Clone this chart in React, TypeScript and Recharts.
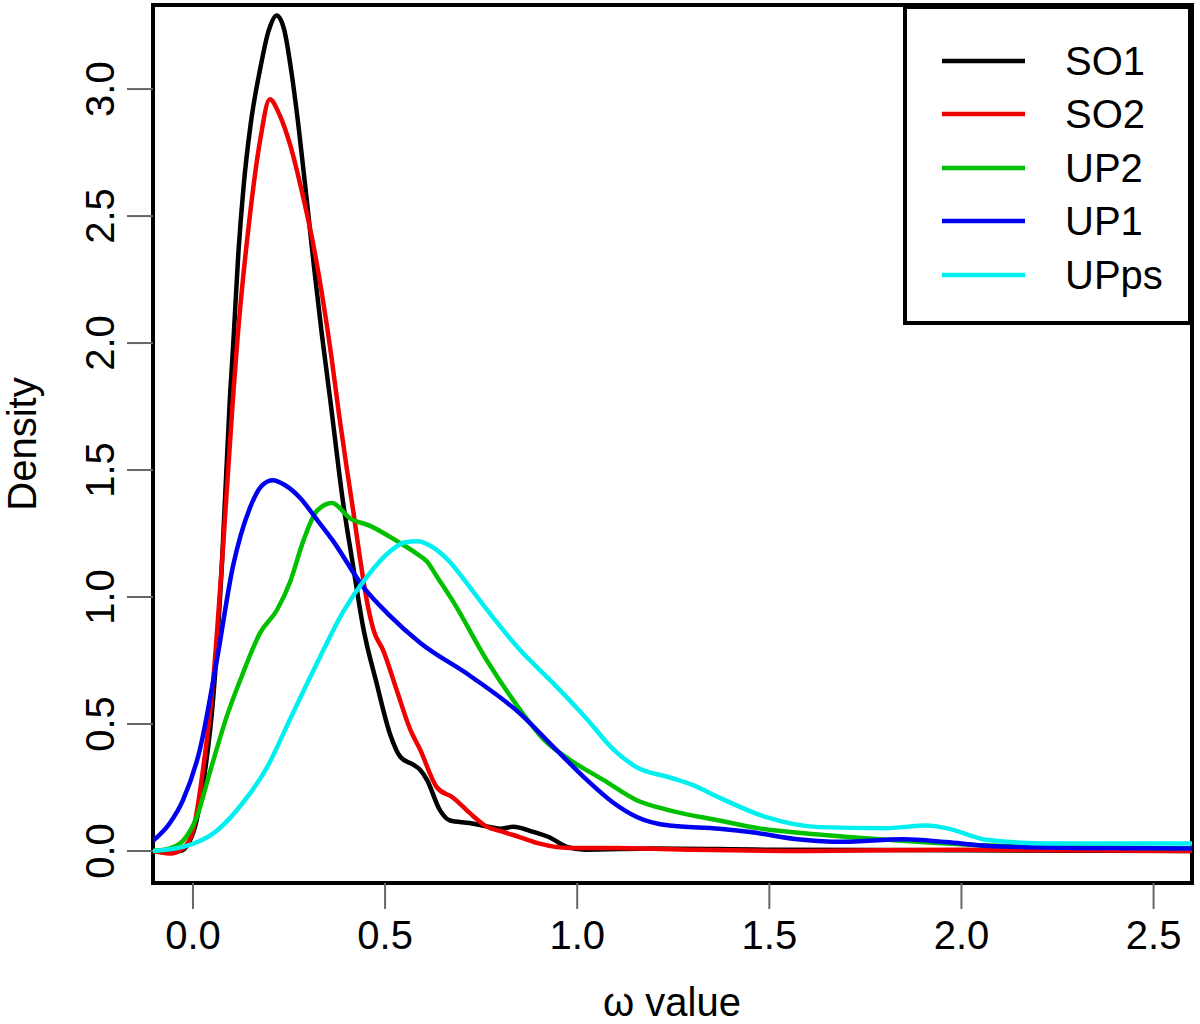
import React from 'react';
import {
  LineChart,
  Line,
  XAxis,
  YAxis,
  Legend,
  ReferenceArea,
  Label,
} from 'recharts';

// Kernel density estimates of omega per gene category
const SO1: [number, number][] = [
  [-0.104, 0.0], [-0.034, 0.0], [0.0, 0.07], [0.027, 0.27], [0.052, 0.59], [0.075, 1.12],
  [0.096, 1.78], [0.105, 2.0], [0.118, 2.35], [0.132, 2.62], [0.15, 2.86], [0.175, 3.08],
  [0.197, 3.23], [0.218, 3.29], [0.238, 3.23], [0.255, 3.08], [0.275, 2.85], [0.295, 2.58],
  [0.315, 2.3], [0.335, 2.04], [0.357, 1.78], [0.39, 1.38], [0.417, 1.12], [0.443, 0.88],
  [0.478, 0.66], [0.513, 0.46], [0.54, 0.37], [0.573, 0.34], [0.591, 0.32], [0.609, 0.28],
  [0.643, 0.16], [0.669, 0.12], [0.72, 0.11], [0.764, 0.097], [0.8, 0.088], [0.833, 0.095],
  [0.886, 0.075], [0.93, 0.052], [0.973, 0.016], [1.02, 0.005], [1.2, 0.01], [1.5, 0.005],
  [2.0, 0.003], [2.6, 0.0],
];

const SO2: [number, number][] = [
  [-0.104, 0.0], [-0.06, -0.01], [-0.026, 0.01], [0.0, 0.08], [0.027, 0.33], [0.052, 0.66],
  [0.078, 1.19], [0.104, 1.78], [0.115, 2.0], [0.148, 2.5], [0.175, 2.8], [0.2, 2.96],
  [0.225, 2.9], [0.253, 2.78], [0.283, 2.6], [0.309, 2.42], [0.335, 2.2], [0.36, 1.95],
  [0.38, 1.72], [0.4, 1.51], [0.417, 1.34], [0.435, 1.15], [0.452, 0.99], [0.47, 0.87],
  [0.495, 0.79], [0.531, 0.63], [0.565, 0.48], [0.591, 0.4], [0.635, 0.25], [0.677, 0.21],
  [0.72, 0.15], [0.76, 0.1], [0.807, 0.075], [0.85, 0.055], [0.9, 0.03], [0.98, 0.012],
  [1.1, 0.012], [1.3, 0.005], [1.6, 0.0], [2.0, 0.005], [2.6, 0.0],
];

const UP2: [number, number][] = [
  [-0.104, 0.0], [-0.06, 0.01], [-0.026, 0.04], [0.01, 0.135], [0.044, 0.31], [0.088, 0.53],
  [0.13, 0.7], [0.175, 0.86], [0.219, 0.95], [0.253, 1.06], [0.287, 1.22], [0.323, 1.34],
  [0.362, 1.37], [0.409, 1.31], [0.461, 1.28], [0.531, 1.22], [0.583, 1.17], [0.609, 1.14],
  [0.635, 1.08], [0.678, 0.98], [0.765, 0.75], [0.852, 0.555], [0.912, 0.44], [0.98, 0.36],
  [1.068, 0.28], [1.155, 0.2], [1.24, 0.16], [1.37, 0.12], [1.47, 0.09], [1.635, 0.064],
  [1.8, 0.045], [2.02, 0.025], [2.3, 0.015], [2.6, 0.01],
];

const UP1: [number, number][] = [
  [-0.104, 0.04], [-0.06, 0.11], [-0.026, 0.2], [0.018, 0.4], [0.062, 0.75], [0.104, 1.12],
  [0.148, 1.35], [0.18, 1.44], [0.208, 1.46], [0.24, 1.44], [0.279, 1.39], [0.32, 1.31],
  [0.365, 1.22], [0.443, 1.04], [0.51, 0.93], [0.591, 0.82], [0.721, 0.69], [0.852, 0.54],
  [0.938, 0.41], [1.025, 0.28], [1.094, 0.19], [1.155, 0.134], [1.24, 0.1], [1.37, 0.088],
  [1.45, 0.075], [1.58, 0.045], [1.69, 0.036], [1.85, 0.046], [1.96, 0.035], [2.07, 0.02],
  [2.3, 0.012], [2.6, 0.01],
];

const UPps: [number, number][] = [
  [-0.104, 0.0], [-0.026, 0.016], [0.062, 0.08], [0.13, 0.19], [0.193, 0.33], [0.253, 0.52],
  [0.323, 0.74], [0.39, 0.94], [0.453, 1.08], [0.513, 1.18], [0.55, 1.215], [0.585, 1.22],
  [0.62, 1.2], [0.661, 1.15], [0.71, 1.06], [0.765, 0.95], [0.852, 0.79], [0.938, 0.66],
  [1.025, 0.52], [1.094, 0.4], [1.155, 0.33], [1.24, 0.29], [1.3, 0.26], [1.37, 0.21],
  [1.49, 0.134], [1.63, 0.094], [1.8, 0.09], [1.91, 0.1], [1.96, 0.09], [2.07, 0.043],
  [2.23, 0.03], [2.6, 0.03],
];

const SERIES_NAMES = ['SO1', 'SO2', 'UP2', 'UP1', 'UPps'];
const SERIES_DATA = [SO1, SO2, UP2, UP1, UPps];
const SERIES_COLORS = ['#000000', '#f00000', '#00c000', '#0000f0', '#00f0f0'];

const X_TICKS = [0, 0.5, 1, 1.5, 2, 2.5];
const Y_TICKS = [0, 0.5, 1, 1.5, 2, 2.5, 3];
const X_DOMAIN: [number, number] = [-0.104, 2.6];
const Y_DOMAIN: [number, number] = [-0.126, 3.331];

const FONT = '"Liberation Sans", Arial, Helvetica, sans-serif';

const toPoints = (pairs: [number, number][]) => pairs.map(([x, y]) => ({ x, y }));

const YTick = (props: any) => {
  const { y, payload } = props;
  return (
    <text
      x={114}
      y={y}
      transform={`rotate(-90, 114, ${y})`}
      textAnchor="middle"
      fontSize={40}
      fontFamily={FONT}
      fill="#000"
    >
      {Number(payload.value).toFixed(1)}
    </text>
  );
};

// legend keeps the plotting order, not the alphabetical one
const renderLegend = () => (
  <div
    style={{
      width: 289,
      height: 320,
      boxSizing: 'border-box',
      border: '4px solid #000',
      background: '#fff',
      paddingTop: 25,
      fontFamily: FONT,
    }}
  >
    {SERIES_NAMES.map((name, i) => (
      <div key={name} style={{ display: 'flex', alignItems: 'center', height: 53.5 }}>
        <svg width={83} height={8} style={{ marginLeft: 35 }}>
          <line x1={0} y1={4} x2={83} y2={4} stroke={SERIES_COLORS[i]} strokeWidth={4.5} />
        </svg>
        <span style={{ marginLeft: 40, fontSize: 40, color: '#000', lineHeight: 1 }}>{name}</span>
      </div>
    ))}
  </div>
);

export default function App() {
  return (
    <div style={{ position: 'absolute', left: 0, top: 0, width: 1200, height: 1024, background: '#fff' }}>
      <LineChart width={1200} height={1024} margin={{ top: 5, right: 8, bottom: 0, left: 0 }}>
        <XAxis
          dataKey="x"
          type="number"
          domain={X_DOMAIN}
          allowDataOverflow
          ticks={X_TICKS}
          tickFormatter={(v: number) => v.toFixed(1)}
          axisLine={false}
          tickLine={{ stroke: '#666', strokeWidth: 2 }}
          tickSize={26}
          tickMargin={12}
          height={141}
          tick={{ fontSize: 40, fill: '#000', fontFamily: FONT }}
        >
          <Label
            content={() => (
              <text x={672} y={1016} textAnchor="middle" fontSize={40} fontFamily={FONT} fill="#000">
                ω value
              </text>
            )}
          />
        </XAxis>
        <YAxis
          type="number"
          domain={Y_DOMAIN}
          allowDataOverflow
          ticks={Y_TICKS}
          axisLine={false}
          tickLine={{ stroke: '#666', strokeWidth: 2 }}
          tickSize={26}
          width={153}
          tick={<YTick />}
        >
          <Label
            content={() => (
              <text
                x={36}
                y={444}
                transform="rotate(-90, 36, 444)"
                textAnchor="middle"
                fontSize={40}
                fontFamily={FONT}
                fill="#000"
              >
                Density
              </text>
            )}
          />
        </YAxis>
        {SERIES_NAMES.map((name, i) => (
          <Line
            key={name}
            name={name}
            data={toPoints(SERIES_DATA[i])}
            dataKey="y"
            type="monotone"
            stroke={SERIES_COLORS[i]}
            strokeWidth={4.5}
            dot={false}
            activeDot={false}
            isAnimationActive={false}
          />
        ))}
        <ReferenceArea
          x1={X_DOMAIN[0]}
          x2={X_DOMAIN[1]}
          y1={Y_DOMAIN[0]}
          y2={Y_DOMAIN[1]}
          fill="none"
          stroke="#000"
          strokeWidth={4}
          ifOverflow="visible"
        />
        <Legend
          layout="vertical"
          align="center"
          verticalAlign="middle"
          wrapperStyle={{ left: 903, top: 5, width: 289 }}
          content={renderLegend}
        />
      </LineChart>
    </div>
  );
}
